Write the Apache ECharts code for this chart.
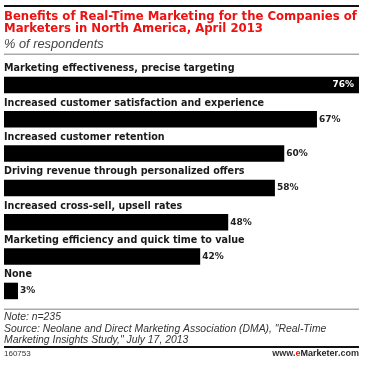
<!DOCTYPE html>
<html>
<head>
<meta charset="utf-8">
<script src="https://cdn.jsdelivr.net/npm/echarts@6/dist/echarts.min.js"></script>
<style>
html,body{margin:0;padding:0;background:#fff;}
#chart{width:380px;height:372px;}
</style>
</head>
<body>
<div id="chart"></div>
<script>
const categories = [
  "Marketing effectiveness, precise targeting",
  "Increased customer satisfaction and experience",
  "Increased customer retention",
  "Driving revenue through personalized offers",
  "Increased cross-sell, upsell rates",
  "Marketing efficiency and quick time to value",
  "None"
];
const values = [76, 67, 60, 58, 48, 42, 3];

const titleText = "Benefits of Real-Time Marketing for the Companies of\nMarketers in North America, April 2013";
const subtitleText = "% of respondents";
const noteText = "Note: n=235\nSource: Neolane and Direct Marketing Association (DMA), \"Real-Time\nMarketing Insights Study,\" July 17, 2013";
const chartId = "160753";

const SANS = "Liberation Sans, Arial, sans-serif";
const WIDE = "DejaVu Sans, Verdana, sans-serif";

const chart = echarts.init(document.getElementById('chart'), null, {renderer: 'canvas'});

const seriesData = values.map((v, i) => {
  if (i === 0) {
    return {value: v, label: {position: 'insideRight', color: '#fff', distance: 5}};
  }
  return {value: v};
});

chart.setOption({
  backgroundColor: '#fff',
  animation: false,
  title: [
    {
      text: titleText,
      left: 4, top: 10.5, padding: 0,
      textStyle: {color: '#ee1111', fontWeight: 'bold', fontSize: 11.7, lineHeight: 12.5, fontFamily: WIDE}
    },
    {
      text: subtitleText,
      left: 4, top: 37.5, padding: 0,
      textStyle: {color: '#444', fontWeight: 'normal', fontStyle: 'italic', fontSize: 12.8, fontFamily: SANS}
    },
    {
      text: noteText,
      left: 4, top: 311.5, padding: 0,
      textStyle: {color: '#333', fontWeight: 'normal', fontStyle: 'italic', fontSize: 10.4, lineHeight: 11.5, fontFamily: SANS}
    },
    {
      text: chartId,
      left: 4, top: 350, padding: 0,
      textStyle: {color: '#333', fontWeight: 'normal', fontSize: 8, fontFamily: SANS}
    },
    {
      text: '{a|www.}{b|e}{c|Marketer}{a|.com}',
      right: 21, top: 349.5, padding: 0,
      textStyle: {
        fontFamily: SANS,
        rich: {
          a: {color: '#333', fontSize: 9, fontFamily: SANS},
          b: {color: '#ee1111', fontSize: 9, fontWeight: 'bold', fontFamily: SANS},
          c: {color: '#222', fontSize: 9, fontWeight: 'bold', fontFamily: SANS}
        }
      }
    }
  ],
  graphic: [
    {type: 'rect', shape: {x: 4, y: 5, width: 355, height: 2}, style: {fill: '#111'}},
    {type: 'rect', shape: {x: 4, y: 53.5, width: 355, height: 1.5}, style: {fill: '#aaa'}},
    {type: 'rect', shape: {x: 4, y: 308.5, width: 355, height: 1.5}, style: {fill: '#aaa'}},
    {type: 'rect', shape: {x: 4, y: 346, width: 355, height: 2}, style: {fill: '#111'}}
  ],
  grid: {left: 4, right: 21, top: 67.8, bottom: 63.9, containLabel: false},
  xAxis: {
    type: 'value', min: 0, max: 76,
    show: false
  },
  yAxis: {
    type: 'category',
    inverse: true,
    data: categories,
    axisLine: {show: false},
    axisTick: {show: false},
    splitLine: {show: false},
    axisLabel: {
      inside: true,
      margin: 0,
      align: 'left',
      verticalAlign: 'bottom',
      padding: [0, 0, 11, 0],
      color: '#1a1a1a',
      fontWeight: 'bold',
      fontSize: 9.6,
      fontFamily: WIDE
    },
    z: 10
  },
  series: [{
    type: 'bar',
    data: seriesData,
    barWidth: 16.5,
    itemStyle: {color: '#000'},
    label: {
      show: true,
      position: 'right',
      distance: 2,
      formatter: '{c}%',
      color: '#222',
      fontWeight: 'bold',
      fontSize: 9,
      fontFamily: WIDE
    }
  }]
});
</script>
</body>
</html>
